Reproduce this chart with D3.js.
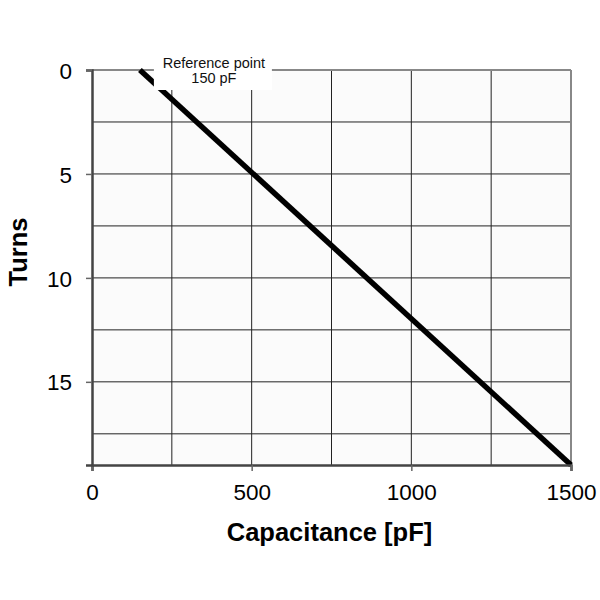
<!DOCTYPE html>
<html>
<head>
<meta charset="utf-8">
<script src="https://cdn.jsdelivr.net/npm/d3@7"></script>
<style>
  body { margin: 0; background: #fff; }
  text { font-family: 'Liberation Sans', Arial, sans-serif; }
</style>
</head>
<body>
<div id="chart"></div>
<script>
// curve: capacitance (pF) vs turns
let capacitance = [150, 1500]
let turns = [0, 19]
let xTicks = [0, 500, 1000, 1500]
let yTicks = [0, 5, 10, 15]
let xGrid = [250, 500, 750, 1000, 1250]
let yGrid = [2.5, 5, 7.5, 10, 12.5, 15, 17.5]
let refLabel = ['Reference point', '150 pF']

let margin = { left: 92, top: 70, right: 29, bottom: 135 }
let width = 600, height = 600

let svg = d3.select('#chart').append('svg')
  .attr('width', width)
  .attr('height', height)

let x = d3.scaleLinear().domain([0, 1500]).range([margin.left, width - margin.right])
let y = d3.scaleLinear().domain([0, 19]).range([margin.top, height - margin.bottom])

// plot background
svg.append('rect')
  .attr('x', x(0)).attr('y', y(0))
  .attr('width', x(1500) - x(0)).attr('height', y(19) - y(0))
  .attr('fill', '#fbfbfb')

// grid
svg.selectAll('.vgrid').data(xGrid).enter().append('line')
  .attr('class', 'vgrid')
  .attr('x1', d => x(d)).attr('x2', d => x(d))
  .attr('y1', y(0)).attr('y2', y(19))
  .attr('stroke', '#222').attr('stroke-width', 1)
svg.selectAll('.hgrid').data(yGrid).enter().append('line')
  .attr('class', 'hgrid')
  .attr('x1', x(0)).attr('x2', x(1500))
  .attr('y1', d => y(d)).attr('y2', d => y(d))
  .attr('stroke', '#222').attr('stroke-width', 1)

// frame: top / right lighter, left / bottom darker
svg.append('line').attr('x1', x(0)).attr('x2', x(1500)).attr('y1', y(0)).attr('y2', y(0))
  .attr('stroke', '#888').attr('stroke-width', 2)
svg.append('line').attr('x1', x(1500)).attr('x2', x(1500)).attr('y1', y(0)).attr('y2', y(19))
  .attr('stroke', '#888').attr('stroke-width', 2)

// the curve
let pts = capacitance.map((c, i) => [c, turns[i]])
svg.append('path')
  .datum(pts)
  .attr('d', d3.line().x(d => x(d[0])).y(d => y(d[1])))
  .attr('fill', 'none')
  .attr('stroke', '#000')
  .attr('stroke-width', 5.5)

// annotation box
let ann = svg.append('g')
ann.append('rect')
  .attr('x', x(150) + 14).attr('y', 54)
  .attr('width', 118).attr('height', 36)
  .attr('fill', '#fff')
ann.selectAll('text').data(refLabel).enter().append('text')
  .attr('x', x(150) + 74)
  .attr('y', (d, i) => 68 + i * 15)
  .attr('text-anchor', 'middle')
  .attr('font-size', 14.5)
  .attr('fill', '#111')
  .text(d => d)

// axes
let xAxis = svg.append('g')
  .attr('transform', 'translate(0,' + y(19) + ')')
  .call(d3.axisBottom(x).tickValues(xTicks).tickFormat(d3.format('d')).tickSize(6).tickPadding(10))
let yAxis = svg.append('g')
  .attr('transform', 'translate(' + x(0) + ',0)')
  .call(d3.axisLeft(y).tickValues(yTicks).tickFormat(d3.format('d')).tickSize(6).tickPadding(14))
;[xAxis, yAxis].forEach(a => {
  a.attr('font-size', null).attr('font-family', null)
  a.select('.domain').attr('stroke', '#444').attr('stroke-width', 2.5)
  a.selectAll('.tick line').attr('stroke', '#666').attr('stroke-width', 1.5)
  a.selectAll('.tick text').style('font-size', '22.5px').attr('fill', '#000')
})
yAxis.selectAll('.tick text').attr('dy', '0.36em')
xAxis.selectAll('.tick text').attr('dy', '0.85em')

// axis titles
svg.append('text')
  .attr('x', (x(0) + x(1500)) / 2 - 2).attr('y', 541)
  .attr('text-anchor', 'middle')
  .style('font-size', '25.5px').attr('font-weight', 'bold')
  .text('Capacitance [pF]')
svg.append('text')
  .attr('transform', 'translate(27,' + 252 + ') rotate(-90)')
  .attr('text-anchor', 'middle')
  .style('font-size', '25.5px').attr('font-weight', 'bold')
  .text('Turns')
</script>
</body>
</html>
